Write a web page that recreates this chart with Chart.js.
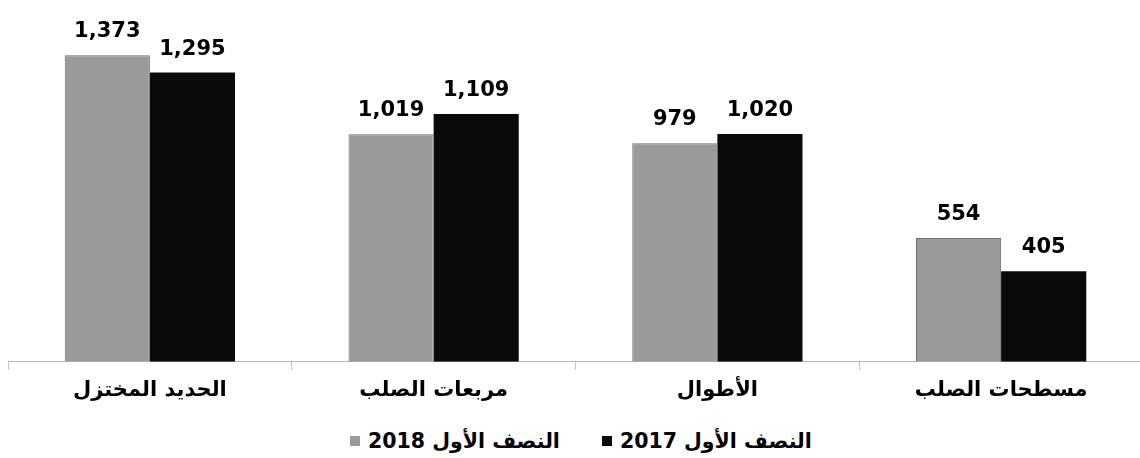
<!DOCTYPE html>
<html>
<head>
<meta charset="utf-8">
<script src="https://cdn.jsdelivr.net/npm/chart.js@4/dist/chart.umd.min.js"></script>
<style>
  html, body { margin: 0; padding: 0; background: #fff; overflow: hidden; width: 1140px; height: 458px; position: relative; }
  #caixa { position: absolute; left: 8px; top: 0; width: 1135px; height: 411px; }
  #legenda { position: absolute; left: 350px; top: 429px; height: 24px; display: flex; align-items: center;
             font: bold 20.5px "DejaVu Sans", Tahoma, sans-serif; color: #000; }
  #legenda .item { display: flex; align-items: center; margin-right: 42px; }
  #legenda .caixinha { width: 10px; height: 10px; margin-right: 8px; box-sizing: border-box; }
</style>
</head>
<body>
<div id="caixa"><canvas id="grafico"></canvas></div>
<div id="legenda"></div>
<script>
const categorias = ['الحديد المختزل', 'مربعات الصلب', 'الأطوال', 'مسطحات الصلب'];
const serie2018 = [1373, 1019, 979, 554];
const serie2017 = [1295, 1109, 1020, 405];
const nomes = ['النصف الأول 2018', 'النصف الأول 2017'];
const cores = ['#9a9a9a', '#0a0a0a'];

const fonte = '"DejaVu Sans", Tahoma, sans-serif';

// rotulos de valor em cima das barras
const rotulos = {
  id: 'rotulos',
  afterDatasetsDraw(chart) {
    const ctx = chart.ctx;
    ctx.save();
    ctx.font = 'bold 21px ' + fonte;
    ctx.fillStyle = '#000';
    ctx.textAlign = 'center';
    ctx.textBaseline = 'bottom';
    chart.data.datasets.forEach((ds, i) => {
      chart.getDatasetMeta(i).data.forEach((barra, j) => {
        ctx.fillText(ds.data[j].toLocaleString('en-US'), barra.x, barra.y - 13);
      });
    });
    ctx.restore();
  }
};

const ctx = document.getElementById('grafico');

const grafico = new Chart(ctx, {
  type: 'bar',
  data: {
    labels: categorias,
    datasets: [{
      label: nomes[0],
      data: serie2018,
      backgroundColor: cores[0],
      borderColor: '#707070',
      borderWidth: 1,
      borderSkipped: 'bottom'
    }, {
      label: nomes[1],
      data: serie2017,
      backgroundColor: cores[1],
      borderWidth: 0
    }]
  },
  options: {
    responsive: true,
    maintainAspectRatio: false,
    animation: false,
    layout: { padding: 0 },
    datasets: {
      bar: { barPercentage: 1, categoryPercentage: 0.6 }
    },
    scales: {
      y: {
        display: false,
        beginAtZero: true,
        max: 1620
      },
      x: {
        border: { display: true, color: '#b8b8b8', width: 1 },
        grid: { display: true, drawOnChartArea: false, color: '#c4c4c4', tickLength: 8 },
        ticks: {
          color: '#000',
          padding: 8,
          font: { family: fonte, size: 21, weight: 'bold' }
        }
      }
    },
    plugins: {
      tooltip: { enabled: false },
      legend: { display: false }
    }
  },
  plugins: [rotulos]
});

// legenda em html, montada a partir dos datasets
const legenda = document.getElementById('legenda');
grafico.data.datasets.forEach(ds => {
  const item = document.createElement('div');
  item.className = 'item';
  item.innerHTML = `<span class="caixinha" style="background:${ds.backgroundColor}"></span><span dir="rtl">${ds.label}</span>`;
  legenda.appendChild(item);
});
</script>
</body>
</html>
